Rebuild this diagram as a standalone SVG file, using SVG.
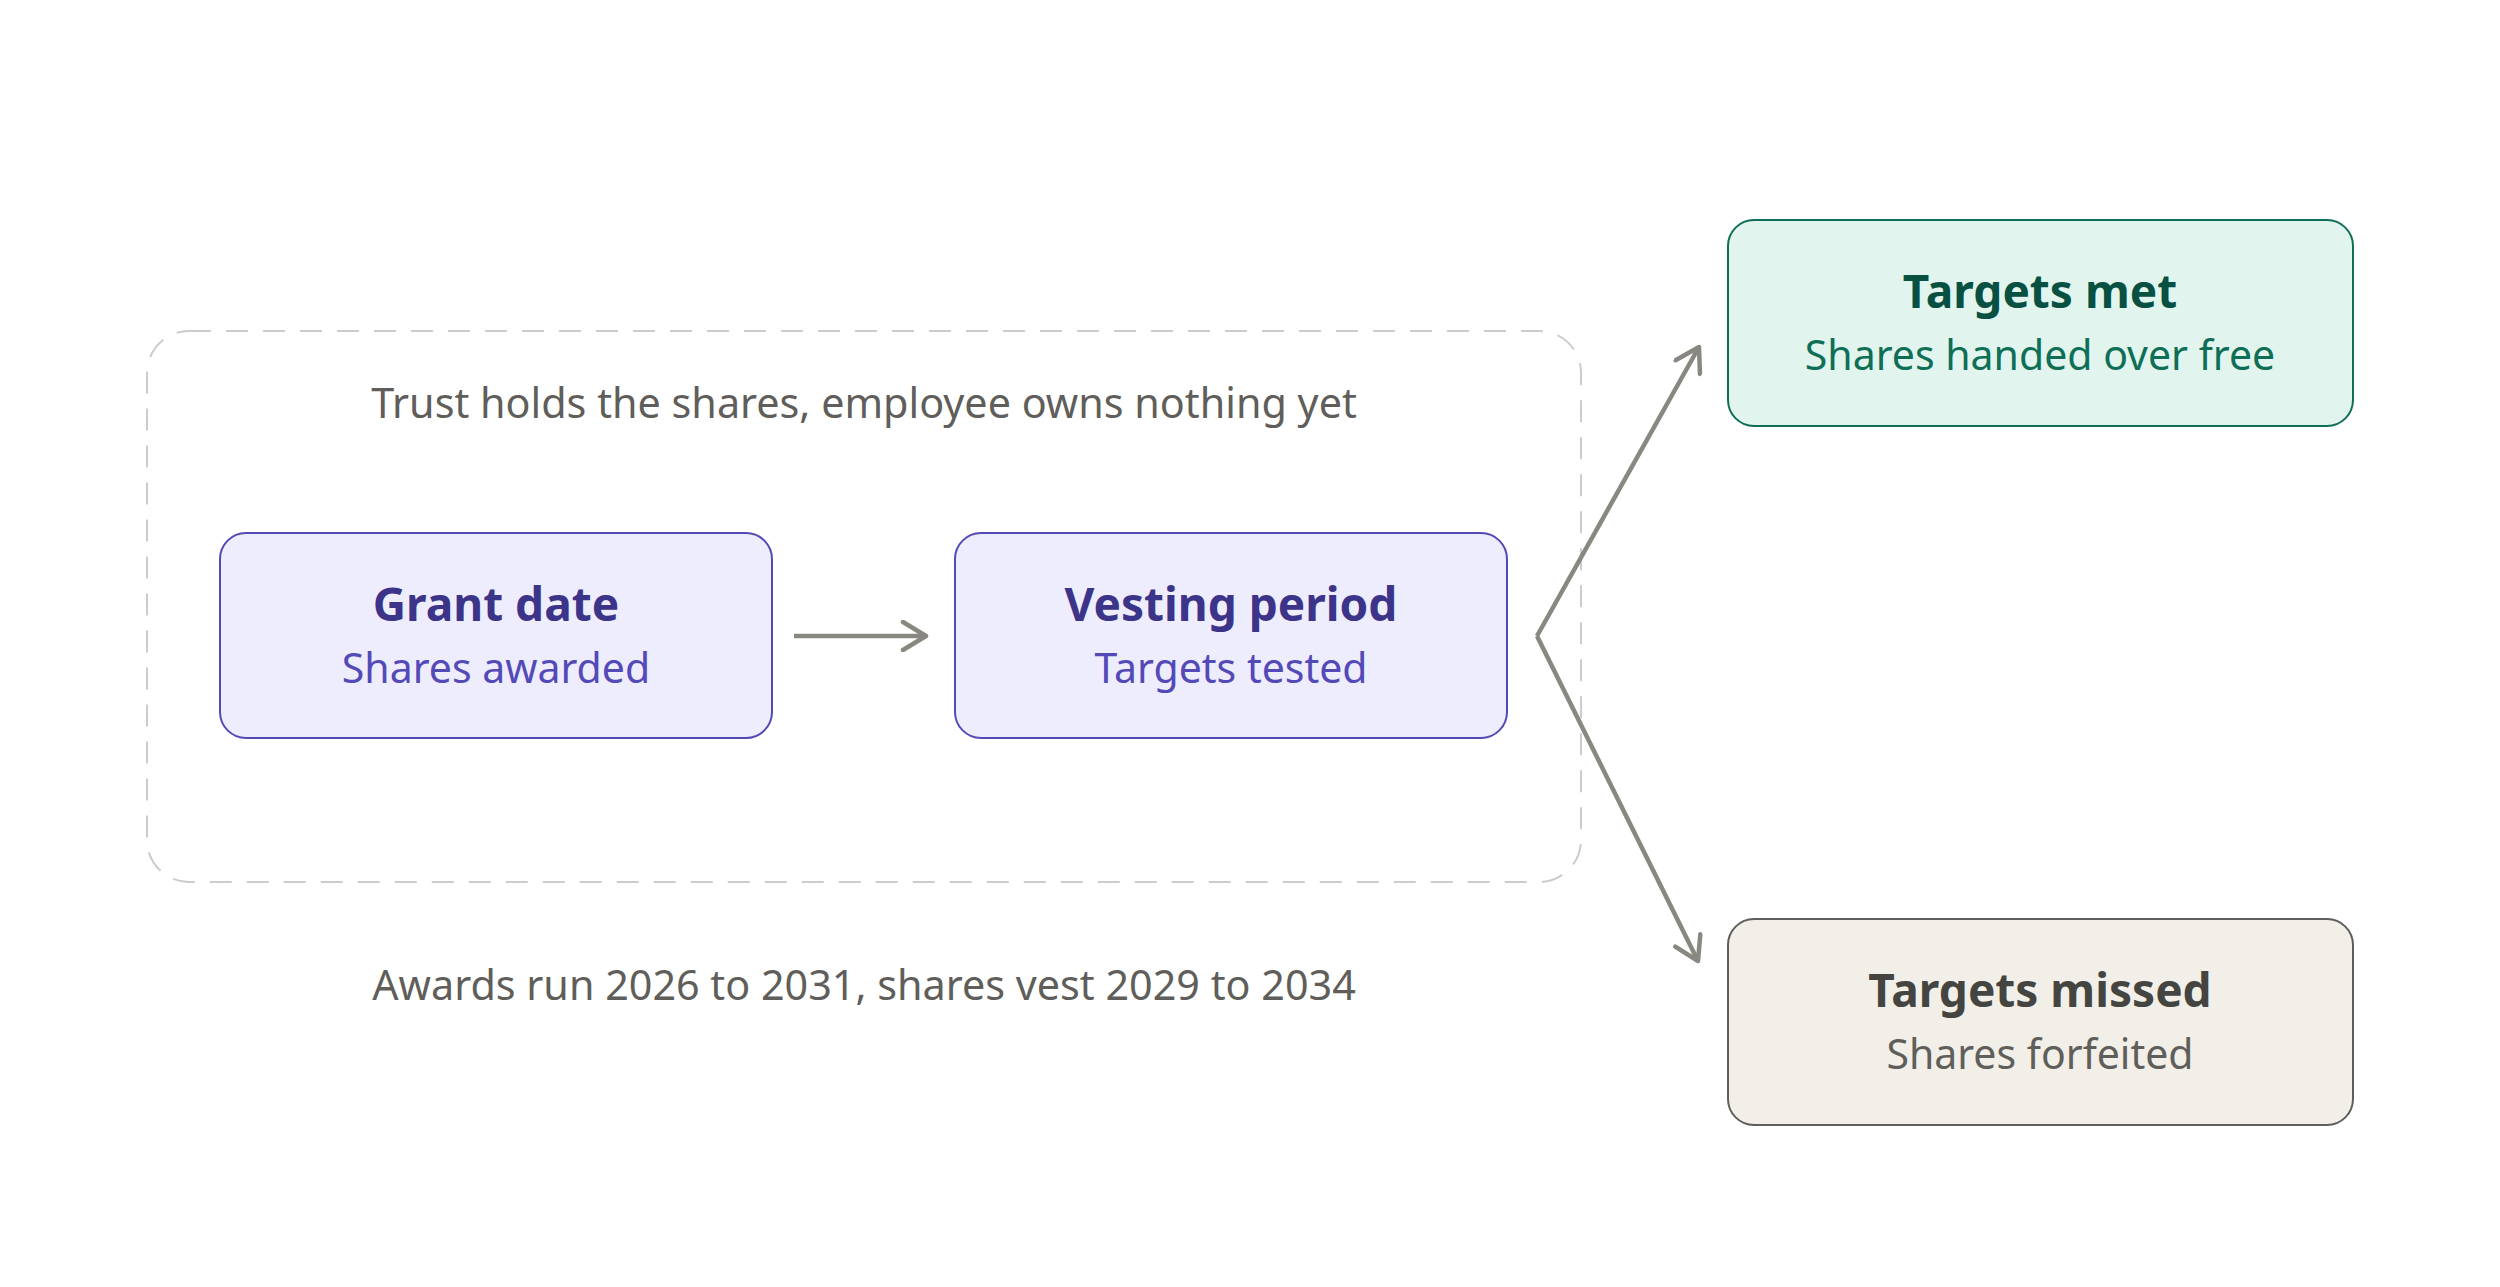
<svg xmlns="http://www.w3.org/2000/svg" width="2500" height="1287" viewBox="0 0 2500 1287">
  <style>
    .t { font-family: "Noto Sans", "Open Sans", "Liberation Sans", sans-serif; text-anchor: middle; }
    .title { font-size: 46px; font-weight: 700; }
    .sub { font-size: 41px; font-weight: 400; }
    .note { font-size: 41.3px; font-weight: 400; fill: #5F5E5A; }
    .purple rect { fill: #EEEDFE; stroke: #534AB7; stroke-width: 2; }
    .purple .title { fill: #3C3489; }
    .purple .sub { fill: #534AB7; }
    .green rect { fill: #E1F5EE; stroke: #0F6E56; stroke-width: 2; }
    .green .title { fill: #085041; }
    .green .sub { fill: #0F6E56; }
    .gray rect { fill: #F1EFE8; stroke: #5F5E5A; stroke-width: 2; }
    .gray .title { fill: #444441; }
    .gray .sub { fill: #5F5E5A; }
    .conn { fill: none; stroke: #888780; stroke-width: 4.5; }
  </style>
  <defs>
    <marker id="arrow" markerUnits="userSpaceOnUse" viewBox="0 0 32 32" markerWidth="32" markerHeight="32" refX="27" refY="16" orient="auto">
      <path d="M4 2 L27 16 L4 30" fill="none" stroke="#888780" stroke-width="4.5" stroke-linecap="round" stroke-linejoin="round"/>
    </marker>
  </defs>
  <rect width="2500" height="1287" fill="#FFFFFF"/>

  <g id="trust-container">
    <rect x="147" y="331" width="1434" height="551" rx="42" ry="42" fill="none" stroke="#CCCCCC" stroke-width="2" stroke-dasharray="22 15"/>
    <text class="t note" x="864" y="418">Trust holds the shares, employee owns nothing yet</text>
  </g>

  <g id="grant-date" class="purple">
    <rect x="220" y="533" width="552" height="205" rx="26" ry="26"/>
    <text class="t title" x="496" y="621">Grant date</text>
    <text class="t sub" x="496" y="683">Shares awarded</text>
  </g>

  <g id="vesting-period" class="purple">
    <rect x="955" y="533" width="552" height="205" rx="26" ry="26"/>
    <text class="t title" x="1231" y="621">Vesting period</text>
    <text class="t sub" x="1231" y="683">Targets tested</text>
  </g>

  <g id="targets-met" class="green">
    <rect x="1728" y="220" width="625" height="206" rx="26" ry="26"/>
    <text class="t title" x="2040" y="308">Targets met</text>
    <text class="t sub" x="2040" y="370">Shares handed over free</text>
  </g>

  <g id="targets-missed" class="gray">
    <rect x="1728" y="919" width="625" height="206" rx="26" ry="26"/>
    <text class="t title" x="2040" y="1007">Targets missed</text>
    <text class="t sub" x="2040" y="1069">Shares forfeited</text>
  </g>

  <g id="timeline-note">
    <text class="t note" x="864" y="1000">Awards run 2026 to 2031, shares vest 2029 to 2034</text>
  </g>

  <g id="connectors">
    <path class="conn" d="M794 636 L926 636" marker-end="url(#arrow)"/>
    <path class="conn" d="M1537 636 L1699 347" marker-end="url(#arrow)"/>
    <path class="conn" d="M1537 636 L1698 961" marker-end="url(#arrow)"/>
  </g>
</svg>
